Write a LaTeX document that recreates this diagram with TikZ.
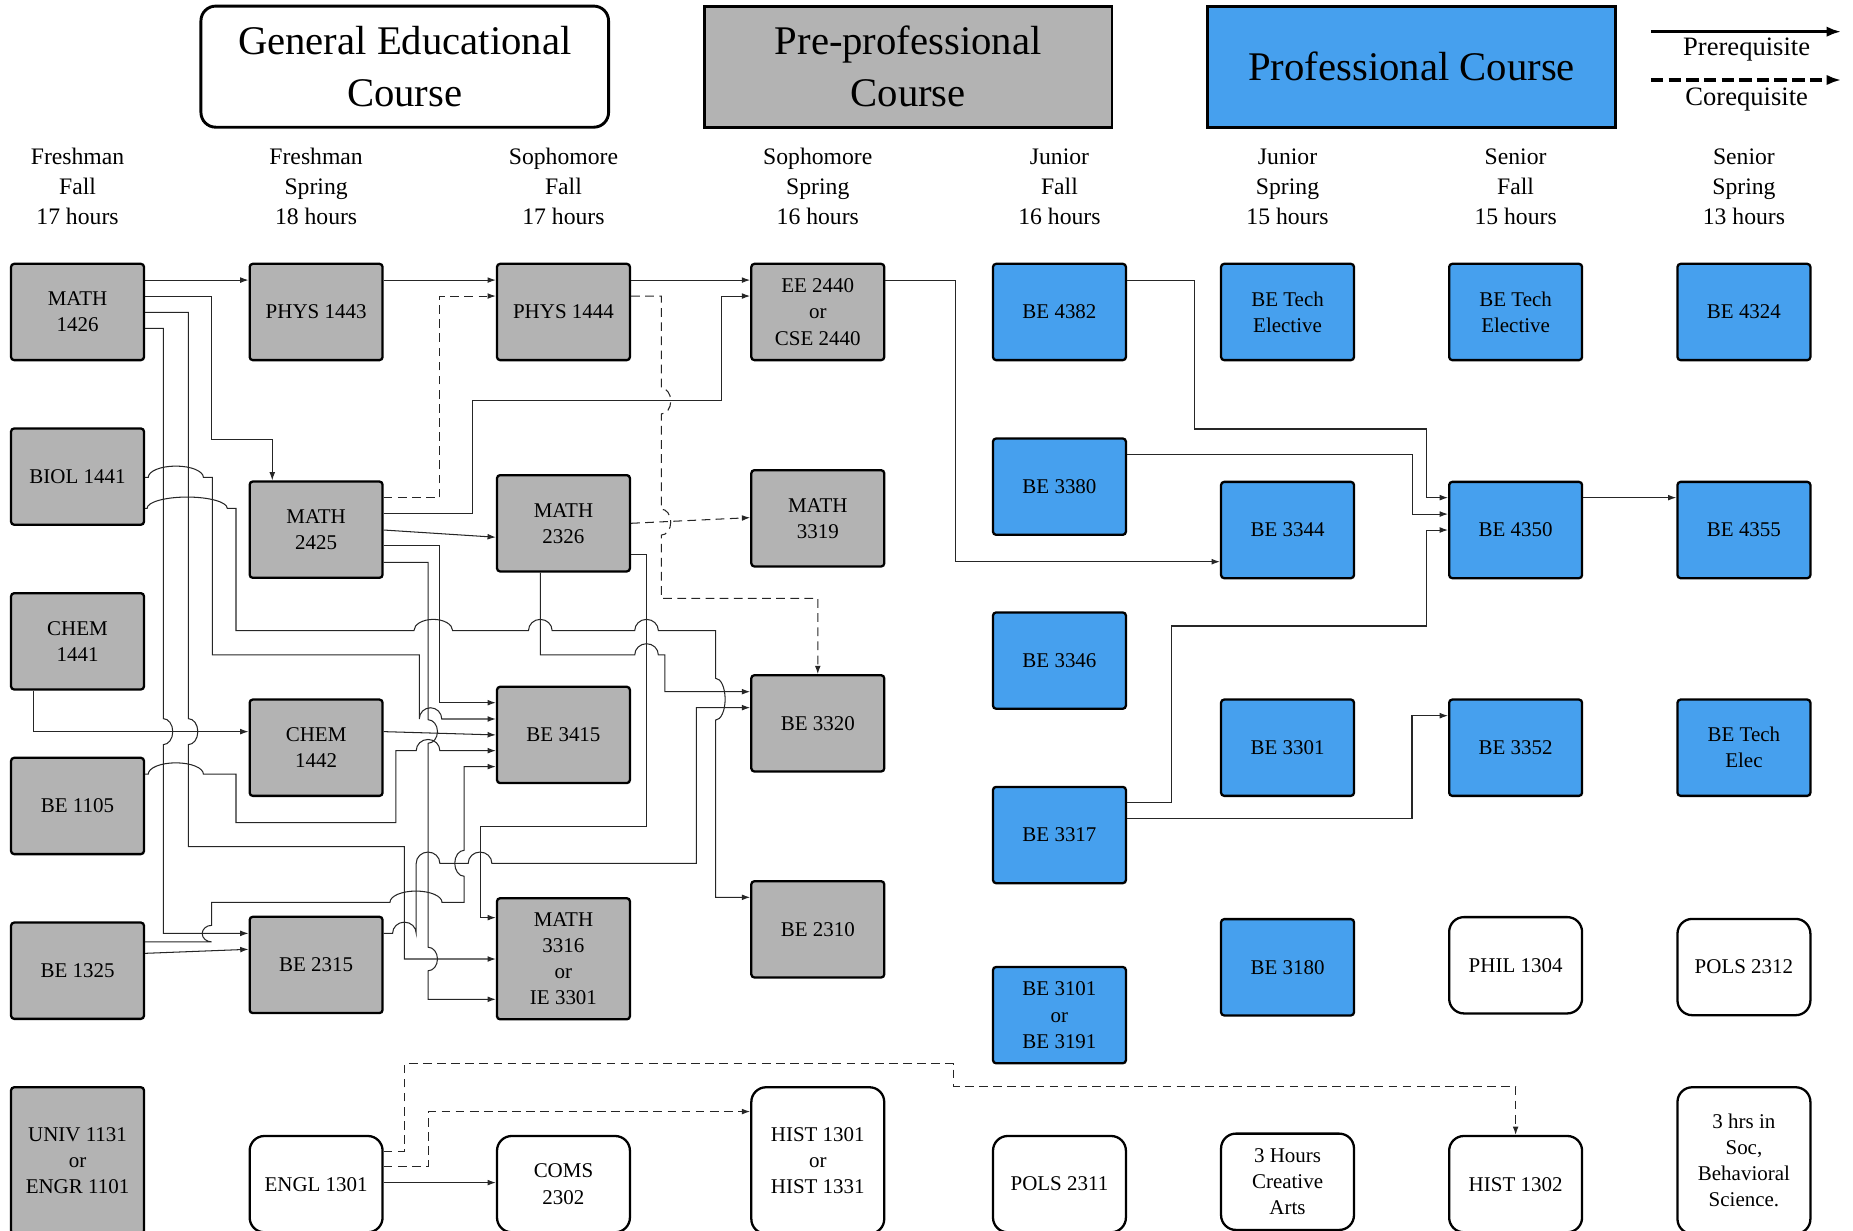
\documentclass[tikz,border=0pt]{standalone}
\usepackage{fontspec}
\setmainfont{Liberation Serif}
\usetikzlibrary{arrows.meta}

\definecolor{pregray}{RGB}{179,179,179}
\definecolor{problue}{RGB}{70,160,238}

\newcommand{\crsfont}{\fontsize{10.1}{12.6}\selectfont}
\newcommand{\semfont}{\fontsize{11.4}{14.45}\selectfont}
\newcommand{\hdrfont}{\fontsize{19.6}{25}\selectfont}
\newcommand{\legfont}{\fontsize{12.8}{15}\selectfont}

\newcommand{\jmphop}[1]{arc[start angle=180,end angle=0,x radius=#1,y radius=0.19cm]}
\newcommand{\jmpdown}[1]{arc[start angle=90,end angle=-90,x radius=0.16cm,y radius=#1]}
\newcommand{\jmpup}[1]{arc[start angle=-90,end angle=-270,x radius=0.16cm,y radius=#1]}

\tikzset{course/.style = {draw, line width=1.1pt, rounded corners=1.5pt,
                          minimum width=2.25cm, minimum height=#1,
                          inner sep=1pt, align=center, font=\crsfont},
         course/.default=1.63cm,
         pre/.style = {course=#1, fill=pregray}, pre/.default=1.63cm,
         pro/.style = {course=#1, fill=problue}, pro/.default=1.63cm,
         gen/.style = {course=#1, fill=white, rounded corners=0.25cm}, gen/.default=1.63cm,
         hdr/.style = {draw, line width=1.4pt, minimum width=6.9cm, minimum height=2.05cm,
                       align=center, font=\hdrfont},
         sem/.style = {align=center, font=\semfont, inner sep=0pt}
        }

\begin{document}
\begin{tikzpicture}[x=0.02cm, y=-0.02cm, >={Latex[length=4pt,width=2.8pt]}]
  \tikzstyle{link}=[->, line width=0.5pt, black!85]
  \tikzstyle{colink}=[link, dash pattern=on 4.2pt off 2.6pt]
  \useasboundingbox (0,0) rectangle (1568,1041);
  \clip (0,0) rectangle (1568,1041);

  \node[hdr, rounded corners=0.25cm, fill=white] (genhdr) at (342.5,56.4) {General Educational\\Course};
  \node[hdr, fill=pregray] (prehdr) at (768.5,56.4) {Pre-professional\\Course};
  \node[hdr, fill=problue] (profhdr) at (1194.5,56.4) {Professional Course};

  \coordinate (prea) at (1397,26.8);
  \coordinate (preb) at (1558,26.8);
  \coordinate (coa) at (1397,67.7);
  \coordinate (cob) at (1558,67.7);
  \draw[-{Latex[length=7pt,width=5pt]}, line width=1.5pt] (prea) -- (preb);
  \draw[-{Latex[length=7pt,width=5pt]}, line width=1.5pt, dash pattern=on 6pt off 2.5pt] (coa) -- (cob);
  \node[font=\legfont] (prelab) at (1478,41.5) {Prerequisite};
  \node[font=\legfont] (colab) at (1478,84) {Corequisite};

  \node[sem] (sem1) at (65.6,158) {Freshman\\Fall\\17 hours};
  \node[sem] (sem2) at (267.5,158) {Freshman\\Spring\\18 hours};
  \node[sem] (sem3) at (476.8,158) {Sophomore\\Fall\\17 hours};
  \node[sem] (sem4) at (692,158) {Sophomore\\Spring\\16 hours};
  \node[sem] (sem5) at (896.5,158) {Junior\\Fall\\16 hours};
  \node[sem] (sem6) at (1089.5,158) {Junior\\Spring\\15 hours};
  \node[sem] (sem7) at (1282.5,158) {Senior\\Fall\\15 hours};
  \node[sem] (sem8) at (1475.7,158) {Senior\\Spring\\13 hours};

  \node[pre] (math1426) at (65.6,264) {MATH\\1426};
  \node[pre] (biol1441) at (65.6,403.3) {BIOL 1441};
  \node[pre] (chem1441) at (65.6,542.7) {CHEM\\1441};
  \node[pre] (be1105) at (65.6,682) {BE 1105};
  \node[pre] (be1325) at (65.6,821.4) {BE 1325};
  \node[pre=2.48cm] (univ1131) at (65.6,982) {UNIV 1131\\or\\ENGR 1101};

  \node[pre] (phys1443) at (267.5,264) {PHYS 1443};
  \node[pre] (math2425) at (267.5,448.2) {MATH\\2425};
  \node[pre] (chem1442) at (267.5,632.7) {CHEM\\1442};
  \node[pre] (be2315) at (267.5,816.5) {BE 2315};
  \node[gen] (engl1301) at (267.5,1002) {ENGL 1301};

  \node[pre] (phys1444) at (476.8,264) {PHYS 1444};
  \node[pre] (math2326) at (476.8,442.8) {MATH\\2326};
  \node[pre] (be3415) at (476.8,621.9) {BE 3415};
  \node[pre=2.05cm] (math3316) at (476.8,811.3) {MATH\\3316\\or\\IE 3301};
  \node[gen] (coms2302) at (476.8,1002) {COMS\\2302};

  \node[pre] (ee2440) at (692,264) {EE 2440\\or\\CSE 2440};
  \node[pre] (math3319) at (692,438.6) {MATH\\3319};
  \node[pre] (be3320) at (692,612.1) {BE 3320};
  \node[pre] (be2310) at (692,786.4) {BE 2310};
  \node[gen=2.48cm] (hist1301) at (692,982) {HIST 1301\\or\\HIST 1331};

  \node[pro] (be4382) at (896.5,264) {BE 4382};
  \node[pro] (be3380) at (896.5,411.8) {BE 3380};
  \node[pro] (be3346) at (896.5,559) {BE 3346};
  \node[pro] (be3317) at (896.5,706.6) {BE 3317};
  \node[pro] (be3101) at (896.5,859) {BE 3101\\or\\BE 3191};
  \node[gen] (pols2311) at (896.5,1002) {POLS 2311};

  \node[pro] (techa) at (1089.5,264) {BE Tech\\Elective};
  \node[pro] (be3344) at (1089.5,448.5) {BE 3344};
  \node[pro] (be3301) at (1089.5,632.7) {BE 3301};
  \node[pro] (be3180) at (1089.5,818.5) {BE 3180};
  \node[gen] (arts) at (1089.5,1000) {3 Hours\\Creative\\Arts};

  \node[pro] (techb) at (1282.5,264) {BE Tech\\Elective};
  \node[pro] (be4350) at (1282.5,448.5) {BE 4350};
  \node[pro] (be3352) at (1282.5,632.7) {BE 3352};
  \node[gen] (phil1304) at (1282.5,816.8) {PHIL 1304};
  \node[gen] (hist1302) at (1282.5,1002) {HIST 1302};

  \node[pro] (be4324) at (1475.7,264) {BE 4324};
  \node[pro] (be4355) at (1475.7,448.5) {BE 4355};
  \node[pro] (techc) at (1475.7,632.7) {BE Tech\\Elec};
  \node[gen] (pols2312) at (1475.7,818.3) {POLS 2312};
  \node[gen=2.48cm] (socsci) at (1475.7,982) {3 hrs in\\Soc,\\Behavioral\\Science.};

  \draw[link] (math1426.east |- 0,237) -- (phys1443.west |- 0,237);
  \draw[link] (math1426.east |- 0,251) -- (179.1,251) -- (179.1,371.5) -- (230.4,371.5) -- (230.4,0 |- math2425.north);
  \draw[link] (math1426.east |- 0,264.3) -- (159.4,264.3) -- (159.4,608.1) \jmpdown{0.22cm} -- (159.4,716.4)
              -- (342.2,716.4) -- (342.2,811.5) -- (math3316.west |- 0,811.5);
  \draw[link] (math1426.east |- 0,277.8) -- (138.2,277.8) -- (138.2,608.1) \jmpdown{0.22cm} -- (138.2,789.8)
              -- (be2315.west |- 0,789.8);

  \draw[link] (biol1441.east |- 0,403.9) -- (125.5,403.9) \jmphop{0.466cm} -- (179.7,403.9) -- (179.7,554.2)
              -- (354.8,554.2) -- (354.8,608.4) \jmphop{0.19cm} -- (be3415.west |- 0,608.4);
  \draw[link] (biol1441.east |- 0,430.1) -- (124.5,430.1) \jmphop{0.678cm} -- (199.7,430.1) -- (199.7,533.6)
              -- (350.3,533.6) \jmphop{0.327cm} -- (447.2,533.6) \jmphop{0.2cm} -- (537.1,533.6) \jmphop{0.2cm}
              -- (605.6,533.6) -- (605.6,574) \jmpdown{0.353cm} -- (605.6,759.3) -- (be2310.west |- 0,759.3);

  \draw[link] (chem1441.south -| 28.2,0) -- (28.2,619.1) -- (chem1442.west |- 0,619.1);
  \draw[link] (chem1442.east |- 0,619.1) -- (be3415.west |- 0,621.9);

  \draw[link] (be1105.east |- 0,655) -- (125.5,655) \jmphop{0.466cm} -- (199.7,655) -- (199.7,696.1)
              -- (335,696.1) -- (335,635.2) -- (352.2,635.2) \jmphop{0.2cm} -- (be3415.west |- 0,635.2);

  \draw[link] (be1325.east |- 0,797) -- (179.1,797) \jmpup{0.14cm} -- (179.1,763.5) -- (330,763.5) \jmphop{0.44cm}
              -- (392.8,763.5) -- (392.8,741.5) \jmpup{0.22cm} -- (392.8,648.7) -- (be3415.west |- 0,648.7);
  \draw[link] (be1325.east |- 0,806.7) -- (be2315.west |- 0,803.3);

  \draw[link] (be2315.east |- 0,789.8) -- (332.2,789.8) \jmphop{0.2cm} -- (352.2,730.5) \jmphop{0.2cm}
              -- (396.2,730.5) \jmphop{0.2cm} -- (589.3,730.5) -- (589.3,598.8) -- (be3320.west |- 0,598.8);

  \draw[colink] (math2425.east |- 0,421.1) -- (372.3,421.1) -- (372.3,250.5) -- (phys1444.west |- 0,250.5);
  \draw[link] (math2425.east |- 0,434.4) -- (400.2,434.4) -- (400.2,339.3) -- (610.4,339.3) -- (610.4,250.5)
              -- (ee2440.west |- 0,250.5);
  \draw[link] (math2425.east |- 0,448.5) -- (math2326.west |- 0,454.6);
  \draw[link] (math2425.east |- 0,461.7) -- (372.3,461.7) -- (372.3,594.6) -- (be3415.west |- 0,594.6);
  \draw[link] (math2425.east |- 0,475.8) -- (362.2,475.8) -- (362.2,609) \jmpdown{0.2cm} -- (362.2,801.5) \jmpdown{0.2cm}
              -- (362.2,845.6) -- (math3316.west |- 0,845.6);

  \draw[link] (phys1443.east |- 0,237) -- (phys1444.west |- 0,237);
  \draw[link] (phys1444.east |- 0,237) -- (ee2440.west |- 0,237);
  \draw[colink] (phys1444.east |- 0,250.5) -- (559.6,250.5) -- (559.6,328.3) \jmpdown{0.22cm} -- (559.6,430.8) \jmpdown{0.22cm}
              -- (559.6,506.3) -- (be3320.north |- 0,506.3) -- (be3320.north);

  \draw[colink] (math2326.east |- 0,442.8) -- (math3319.west |- 0,438);
  \draw[link] (math2326.south -| 457.2,0) -- (457.2,554.2) -- (537.1,554.2) \jmphop{0.2cm} -- (562.6,554.2)
              -- (562.6,585.3) -- (be3320.west |- 0,585.3);
  \draw[link] (math2326.east |- 0,469.6) -- (547.1,469.6) -- (547.1,699) -- (406.2,699) -- (406.2,776.5)
              -- (math3316.west |- 0,776.5);

  \draw[link] (ee2440.east |- 0,237) -- (808.3,237) -- (808.3,475.3) -- (be3344.west |- 0,475.3);

  \draw[link] (be4382.east |- 0,237) -- (1011,237) -- (1011,363) -- (1207,363) -- (1207,421.1) -- (be4350.west |- 0,421.1);
  \draw[link] (be3380.east |- 0,384.5) -- (1195,384.5) -- (1195,435) -- (be4350.west |- 0,435);
  \draw[link] (be3317.east |- 0,679.2) -- (991.5,679.2) -- (991.5,529.7) -- (1206.8,529.7) -- (1206.8,448.5)
              -- (be4350.west |- 0,448.5);
  \draw[link] (be3317.east |- 0,692.5) -- (1194.8,692.5) -- (1194.8,605.6) -- (be3352.west |- 0,605.6);
  \draw[link] (be4350.east |- 0,421.1) -- (be4355.west |- 0,421.1);

  \draw[link] (engl1301.east |- 0,1000.7) -- (coms2302.west |- 0,1000.7);
  \draw[colink] (engl1301.east |- 0,974.5) -- (342,974.5) -- (342,900.2) -- (807,900.2) -- (807,919.5)
              -- (hist1302.north |- 0,919.5) -- (hist1302.north);
  \draw[colink] (engl1301.east |- 0,987.2) -- (362.6,987.2) -- (362.6,940.6) -- (hist1301.west |- 0,940.6);
\end{tikzpicture}
\end{document}
